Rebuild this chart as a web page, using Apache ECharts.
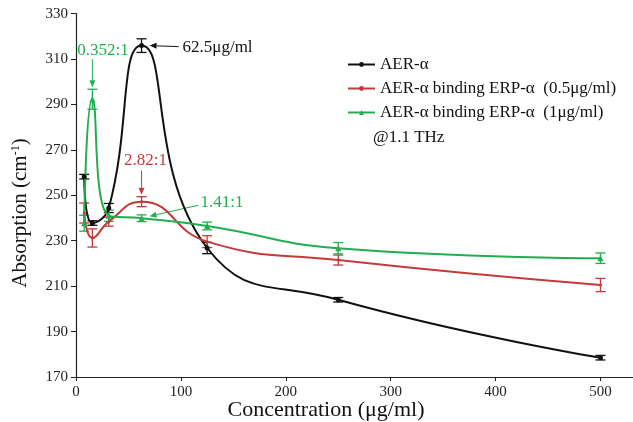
<!DOCTYPE html>
<html>
<head>
<meta charset="utf-8">
<script src="https://cdn.jsdelivr.net/npm/echarts@6/dist/echarts.min.js"></script>
<style>
html,body{margin:0;padding:0;background:#fff;}
#c{width:633px;height:422px;}
</style>
</head>
<body>
<div id="c"></div>
<script>
// ---- data ----
const conc = [7.8, 15.6, 31.25, 62.5, 125, 250, 500];
const seriesNames = ['AER-α', 'AER-α binding ERP-α  (0.5μg/ml)', 'AER-α binding ERP-α  (1μg/ml)'];
const aer = [258.2, 237.8, 244.4, 315.9, 226.8, 204.0, 178.5];
const aerErr = [1.0, 1.0, 2.0, 3.0, 2.5, 1.0, 1.0];
const red = [242.2, 231.2, 238.4, 247.2, 229.6, 221.5, 210.5];
const redErr = [4.4, 4.0, 2.0, 2.2, 2.6, 2.2, 2.9];
const green = [237.7, 292.3, 241.0, 239.9, 236.5, 226.7, 222.3];
const greenErr = [3.5, 4.4, 2.5, 1.5, 1.7, 2.5, 2.3];
const xTicks = [0, 100, 200, 300, 400, 500];
const yTicks = [170, 190, 210, 230, 250, 270, 290, 310, 330];

const colors = ['#111111', '#c23b3b', '#22ae4e'];
const FONT = '"Liberation Serif", "Times New Roman", serif';

const chart = echarts.init(document.getElementById('c'), null, {renderer: 'canvas'});

function errSeries(vals, errs, color) {
  return {
    type: 'custom',
    z: 3,
    silent: true,
    data: conc.map((c, i) => [c, vals[i] - errs[i], vals[i] + errs[i]]),
    renderItem: function (params, api) {
      const x = api.value(0), lo = api.value(1), hi = api.value(2);
      const p1 = api.coord([x, hi]), p2 = api.coord([x, lo]);
      const w = 5;
      const st = {stroke: color, lineWidth: 1.3};
      return {type: 'group', children: [
        {type: 'line', shape: {x1: p1[0], y1: p1[1], x2: p2[0], y2: p2[1]}, style: st},
        {type: 'line', shape: {x1: p1[0] - w, y1: p1[1], x2: p1[0] + w, y2: p1[1]}, style: st},
        {type: 'line', shape: {x1: p2[0] - w, y1: p2[1], x2: p2[0] + w, y2: p2[1]}, style: st}
      ]};
    }
  };
}

function lineSeries(name, vals, color, symbol, size) {
  return {
    name: name,
    type: 'line',
    smooth: 0.5,
    z: 4,
    data: conc.map((c, i) => [c, vals[i]]),
    symbol: symbol,
    symbolSize: size,
    showSymbol: true,
    lineStyle: {color: color, width: 2},
    itemStyle: {color: color},
    emphasis: {disabled: true}
  };
}

chart.setOption({
  animation: false,
  backgroundColor: '#fff',
  grid: {left: 76, right: 0, top: 13.6, bottom: 45, containLabel: false},
  legend: {
    orient: 'vertical',
    left: 342,
    top: 51,
    itemWidth: 27,
    itemHeight: 6,
    itemGap: 7,
    data: seriesNames,
    textStyle: {fontFamily: FONT, fontSize: 17, color: '#111'},
    selectedMode: false
  },
  xAxis: {
    type: 'value',
    min: 0,
    max: 531,
    interval: 100,
    axisLine: {show: true, lineStyle: {color: '#222', width: 1.2}},
    axisTick: {show: true, inside: false, length: 4, customValues: xTicks, lineStyle: {color: '#222'}},
    axisLabel: {customValues: xTicks, fontFamily: FONT, fontSize: 15, color: '#222', margin: 8},
    splitLine: {show: false}
  },
  yAxis: {
    type: 'value',
    min: 170,
    max: 330,
    interval: 20,
    axisLine: {show: true, lineStyle: {color: '#222', width: 1.2}},
    axisTick: {show: true, inside: false, length: 5, customValues: yTicks, lineStyle: {color: '#222'}},
    axisLabel: {customValues: yTicks, fontFamily: FONT, fontSize: 15, color: '#222', margin: 8},
    splitLine: {show: false}
  },
  series: [
    lineSeries(seriesNames[0], aer, colors[0], 'circle', 5),
    lineSeries(seriesNames[1], red, colors[1], 'circle', 3),
    lineSeries(seriesNames[2], green, colors[2], 'triangle', 6),
    errSeries(aer, aerErr, colors[0]),
    errSeries(red, redErr, colors[1]),
    errSeries(green, greenErr, colors[2])
  ]
});

// ---- annotations, anchored to data points ----
function px(x, y) { return chart.convertToPixel({gridIndex: 0}, [x, y]); }
function arrow(x1, y1, x2, y2, color) {
  const dx = x2 - x1, dy = y2 - y1, L = Math.sqrt(dx * dx + dy * dy);
  const ux = dx / L, uy = dy / L, hl = 7, hw = 3;
  const bx = x2 - ux * hl, by = y2 - uy * hl;
  return [
    {type: 'line', shape: {x1: x1, y1: y1, x2: bx, y2: by}, style: {stroke: color, lineWidth: 1}},
    {type: 'polygon', shape: {points: [[x2, y2], [bx - uy * hw, by + ux * hw], [bx + uy * hw, by - ux * hw]]}, style: {fill: color}}
  ];
}
function txt(x, y, s, color, align, size) {
  return {type: 'text', x: x, y: y, style: {text: s, fill: color, font: (size || 17) + 'px ' + FONT, align: align || 'left', verticalAlign: 'middle'}};
}

const gPeak = px(conc[1], green[1]);
const bPeak = px(conc[3], aer[3]);
const rPeak = px(conc[3], red[3]);
const gMid = px(conc[3], green[3]);

let g = [];
// 0.352:1
g.push(txt(gPeak[0] - 15, gPeak[1] - 49, '0.352:1', colors[2]));
g = g.concat(arrow(gPeak[0], gPeak[1] - 40, gPeak[0], gPeak[1] - 12, colors[2]));
// 62.5μg/ml
g.push(txt(bPeak[0] + 41, bPeak[1] + 2, '62.5μg/ml', colors[0]));
g = g.concat(arrow(bPeak[0] + 37, bPeak[1] + 1, bPeak[0] + 8, bPeak[1], colors[0]));
// 2.82:1
g.push(txt(rPeak[0] + 4, rPeak[1] - 41, '2.82:1', colors[1], 'center'));
g = g.concat(arrow(rPeak[0], rPeak[1] - 31, rPeak[0], rPeak[1] - 7, colors[1]));
// 1.41:1
g.push(txt(gMid[0] + 59, gMid[1] - 16, '1.41:1', colors[2]));
g = g.concat(arrow(gMid[0] + 57, gMid[1] - 13, gMid[0] + 8, gMid[1] - 2, colors[2]));
// @1.1 THz
g.push(txt(373, 138, '@1.1 THz', '#111'));
// axis names
g.push({type: 'text', x: 20, y: 213, rotation: Math.PI / 2,
  style: {rich: {a: {font: '21px ' + FONT, fill: '#111'}, s: {font: '12px ' + FONT, fill: '#111', verticalAlign: 'top', padding: [0, 0, 8, 0]}},
          text: '{a|Absorption (cm}{s|-1}{a|)}', align: 'center', verticalAlign: 'middle'}});
g.push(txt(326, 410, 'Concentration (μg/ml)', '#111', 'center', 22));

chart.setOption({graphic: {elements: g}});
</script>
</body>
</html>
